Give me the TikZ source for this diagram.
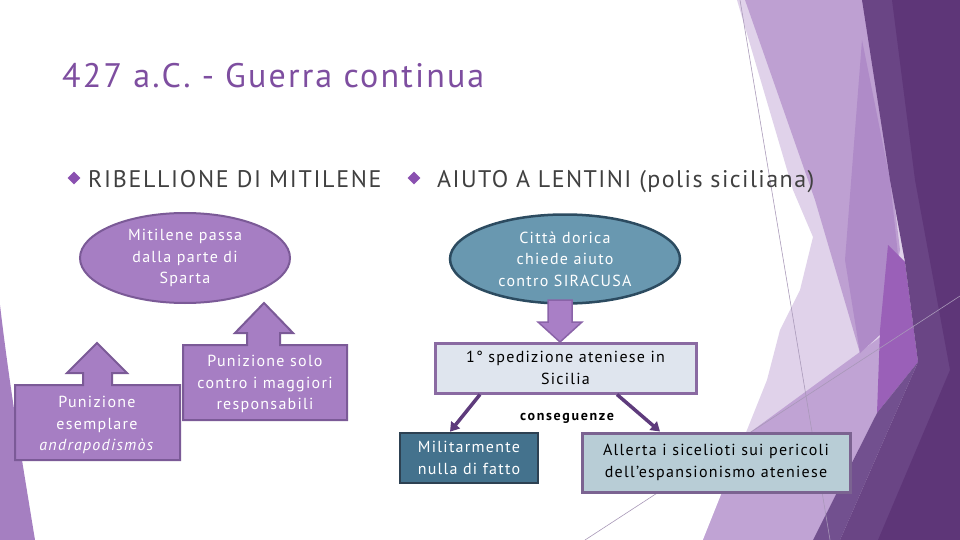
\documentclass[tikz,border=0pt]{standalone}
\usepackage{fontspec}
\setmainfont{PT Sans}
\newfontfamily\titlefont{PT Sans}[LetterSpace=6.3]
\newfontfamily\headfont{PT Sans}[LetterSpace=7]
\newfontfamily\headfonttwo{PT Sans}[LetterSpace=6]
\newfontfamily\boxfont{PT Sans}[LetterSpace=8]
\newfontfamily\consfont{PT Sans}[LetterSpace=12]
\usetikzlibrary{shapes.geometric,arrows.meta}
\definecolor{titlepurple}{HTML}{7E4EA0}
\definecolor{bodygray}{HTML}{404040}
\definecolor{bulletpurple}{HTML}{8A50B0}
\definecolor{ellfill}{HTML}{A67EC3}
\definecolor{ellborder}{HTML}{7B5A97}
\definecolor{bluefill}{HTML}{6998B0}
\definecolor{blueborder}{HTML}{2C4B60}
\definecolor{arrowfill}{HTML}{A97FC6}
\definecolor{arrowborder}{HTML}{8A63A8}
\definecolor{spedfill}{HTML}{DFE5EE}
\definecolor{spedborder}{HTML}{8A6AA2}
\definecolor{conn}{HTML}{5E3B7C}
\definecolor{milfill}{HTML}{44728D}
\definecolor{milborder}{HTML}{2D4152}
\definecolor{allfill}{HTML}{B8CDD6}
\definecolor{allborder}{HTML}{7B6391}
\definecolor{bgpale}{HTML}{E0D2EA}
\definecolor{bglav}{HTML}{C0A3D4}
\definecolor{bglight}{HTML}{BEA0D2}
\definecolor{bgmed}{HTML}{AF8BC8}
\definecolor{bgvivid}{HTML}{9A60B8}
\definecolor{bgmdark}{HTML}{72508F}
\definecolor{bgdark}{HTML}{6A4585}
\definecolor{bgdarkest}{HTML}{5E3678}
\definecolor{bgleft}{HTML}{A57FC1}
\definecolor{bgline}{HTML}{A898B8}
\tikzset{
  nodetext/.style={font=\boxfont\fontsize{16}{21.5}\selectfont, align=center, inner sep=0},
  ellbox/.style={ellipse, draw=ellborder, line width=2pt, fill=ellfill, text=white, nodetext},
  callout/.style={draw=ellborder, line width=2pt, fill=ellfill, line join=miter},
  bodytext/.style={anchor=base west, inner sep=0, font=\headfont\fontsize{24}{28}\selectfont, text=bodygray},
  bullet/.style={diamond, fill=bulletpurple, minimum width=13pt, minimum height=13pt, inner sep=0},
  conarrow/.style={draw=conn, line width=3.5pt, -{Triangle[length=9pt,width=11pt]}},
}
\begin{document}
\begin{tikzpicture}[x=1pt,y=-1pt]
\useasboundingbox (0,0) rectangle (960,540);
\fill[white] (0,0) rectangle (960,540);
% background facets
\fill[bgpale] (737,0) -- (793,190) -- (813,237) -- (800,290) -- (780,330) -- (767,380) -- (735,460) -- (703,540) -- (960,540) -- (960,0) -- cycle;
\fill[bglav] (745,436) -- (890,330) -- (877,413) -- (813,540) -- (703,540) -- (735,460) -- cycle;
\fill[bglight] (745,0) -- (870,0) -- (900,250) -- (885,330) -- (860,353) -- (815,200) -- cycle;
\fill[bgmed] (862,40) -- (890,180) -- (898,255) -- (885,330) -- (860,353) -- (845,260) -- cycle;
\fill[bgvivid] (888,245) -- (905,262) -- (918,362) -- (877,413) -- (880,330) -- cycle;
\fill[bgmdark] (877,413) -- (918,362) -- (840,540) -- (813,540) -- cycle;
\fill[bgdark] (862,0) -- (960,0) -- (960,540) -- (840,540) -- (918,362) -- (905,262) -- (890,180) -- cycle;
\fill[bgdarkest] (892,0) -- (960,0) -- (960,540) -- (878,540) -- (950,370) -- (915,180) -- cycle;
\draw[bgline, line width=0.6pt] (740,0) -- (830,540);
\draw[bgline, line width=0.6pt] (585,540) -- (960,296);
\fill[bgleft] (0,305) .. controls (10,390) and (22,460) .. (35,540) -- (0,540) -- cycle;

% title and headings
\node[anchor=base west, inner sep=0, font=\titlefont\fontsize{34}{40}\selectfont, text=titlepurple] (title) at (62,88) {427 a.C. - Guerra continua};
\node[bullet] (b1) at (74,178) {};
\node[bodytext] (h1) at (88,187) {RIBELLIONE DI MITILENE};
\node[bullet] (b2) at (414,178) {};
\node[bodytext, font=\headfonttwo\fontsize{24}{28}\selectfont] (h2) at (437,187) {AIUTO A LENTINI (polis siciliana)};

% left side
\node[ellbox, minimum width=210pt, minimum height=90pt] (mit) at (185,258) {\raisebox{-2pt}{\parbox{120pt}{\centering Mitilene passa\\dalla parte di\\Sparta}}};
\draw[callout] (15,385) -- (83,385) -- (83,373) -- (67,373) -- (97,343) -- (127,373) -- (112,373) -- (112,385) -- (180,385) -- (180,460) -- (15,460) -- cycle;
\node[nodetext, text=white] (pun1) at (97,425) {Punizione\\esemplare\\\textit{andrapodismòs}};
\draw[callout] (183,345) -- (247,345) -- (247,333) -- (235,333) -- (264,303) -- (293,333) -- (280,333) -- (280,345) -- (347,345) -- (347,420) -- (183,420) -- cycle;
\node[nodetext, text=white] (pun2) at (265,384) {Punizione solo\\contro i maggiori\\responsabili};

% right side
\node[ellipse, draw=blueborder, line width=2.5pt, fill=bluefill, text=white, nodetext, minimum width=230pt, minimum height=89pt] (citta) at (565,259) {Città dorica\\chiede aiuto\\contro SIRACUSA};
\draw[draw=arrowborder, fill=arrowfill, line width=1.5pt] (548,300) -- (572,300) -- (572,322) -- (582,322) -- (560,342) -- (538,322) -- (548,322) -- cycle;
\node[draw=spedborder, line width=3pt, fill=spedfill, nodetext, minimum width=261pt, minimum height=50pt] (sped) at (565.5,368) {1° spedizione ateniese in\\Sicilia};
\node[font=\consfont\bfseries\fontsize{14}{16}\selectfont, inner sep=0] (cons) at (567,418) {conseguenze};
\node[draw=milborder, line width=2.5pt, fill=milfill, text=white, nodetext, minimum width=138pt, minimum height=50pt] (mil) at (469,458) {Militarmente\\nulla di fatto};
\node[draw=allborder, line width=3pt, fill=allfill, nodetext, minimum width=268pt, minimum height=59pt] (all) at (716,462.5) {Allerta i sicelioti sui pericoli\\dell’espansionismo ateniese};
\draw[conarrow] ([xshift=-85.5pt]sped.south) -- ([xshift=-19pt]mil.north);
\draw[conarrow] ([xshift=51.5pt]sped.south) -- ([xshift=-56pt]all.north);
\end{tikzpicture}
\end{document}
